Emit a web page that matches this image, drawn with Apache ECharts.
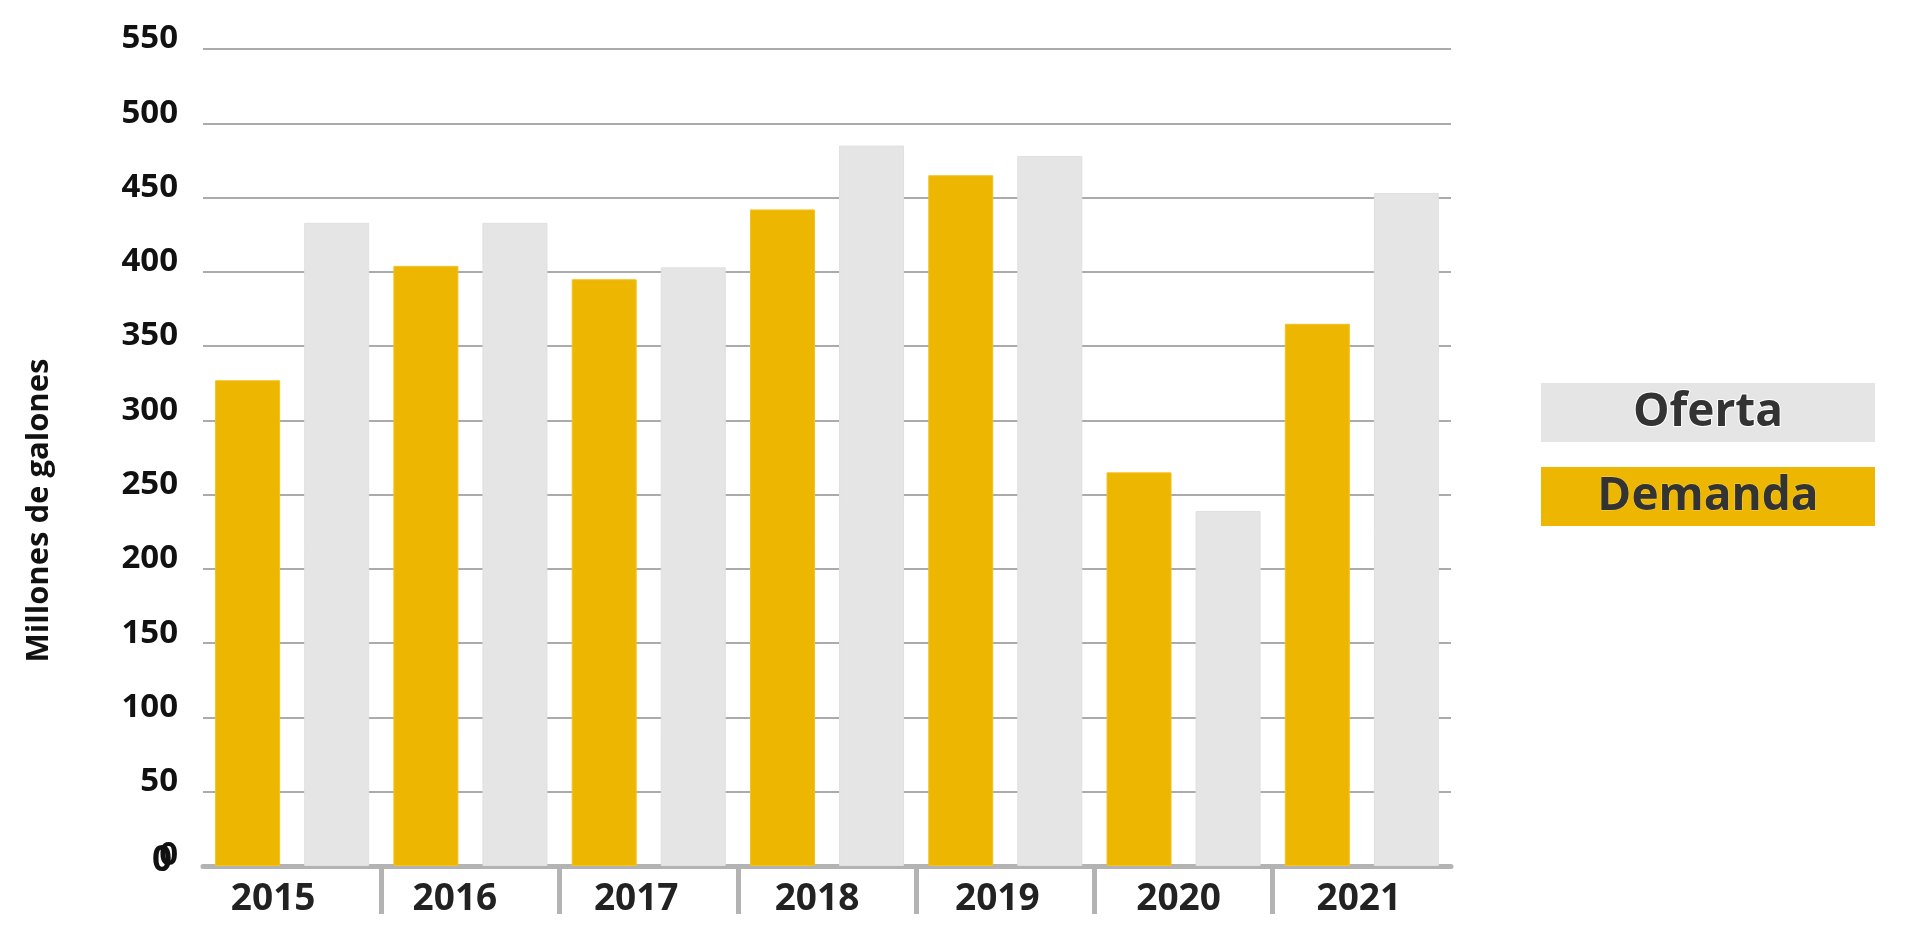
<!DOCTYPE html>
<html>
<head>
<meta charset="utf-8">
<script src="https://cdn.jsdelivr.net/npm/echarts@6/dist/echarts.min.js"></script>
<style>
html,body{margin:0;padding:0;background:#fff;}
#chart{width:1920px;height:952px;}
</style>
</head>
<body>
<div id="chart"></div>
<script>
const categories = ['2015', '2016', '2017', '2018', '2019', '2020', '2021'];
const demanda = [327, 404, 395, 442, 465, 265, 365];
const oferta = [433, 433, 403, 485, 478, 239, 453];
const yTicks = [0, 50, 100, 150, 200, 250, 300, 350, 400, 450, 500, 550];
const seriesNames = ['Demanda', 'Oferta'];
const legendOrder = ['Oferta', 'Demanda'];

const FONT = '"Open Sans", "Noto Sans", sans-serif';
const GOLD = '#EDB600';
const GREY = '#E5E5E5';
const AXIS = '#B3B3B3';

// horizontal shift (px) of each year label relative to its category centre, as in the source
const labelShift = [-19, -15.5, -12.5, -10, -8, -5, -3];

const chart = echarts.init(document.getElementById('chart'), null, {renderer: 'canvas'});

const tickGradient = {
  type: 'linear', x: 0, y: 0, x2: 1920, y2: 0, global: true,
  colorStops: [
    {offset: 0, color: 'rgba(179,179,179,0)'},
    {offset: 207 / 1920, color: 'rgba(179,179,179,0)'},
    {offset: 208 / 1920, color: AXIS},
    {offset: 1446 / 1920, color: AXIS},
    {offset: 1447 / 1920, color: 'rgba(179,179,179,0)'},
    {offset: 1, color: 'rgba(179,179,179,0)'}
  ]
};

const labelRich = {};
labelShift.forEach(function (s, i) {
  labelRich['l' + i] = {
    fontFamily: FONT, fontWeight: 700, fontSize: 37, color: '#222', lineHeight: 38,
    padding: s < 0 ? [0, -2 * s, 0, 0] : [0, 0, 0, 2 * s]
  };
});

const option = {
  animation: false,
  backgroundColor: '#fff',
  grid: {left: 203, right: 469, top: 49, bottom: 86, containLabel: false},
  legend: {
    data: legendOrder,
    orient: 'vertical',
    left: 1535,
    top: 383,
    padding: 0,
    itemGap: 25,
    itemWidth: 0,
    itemHeight: 0,
    selectedMode: false,
    formatter: function (name) {
      return name === 'Oferta' ? '{o|' + name + '}' : '{d|' + name + '}';
    },
    textStyle: {
      rich: {
        o: {
          width: 334, height: 59, lineHeight: 59, align: 'center',
          backgroundColor: GREY, color: '#333', fontFamily: FONT, fontWeight: 700,
          fontSize: 46, textBorderColor: '#fff', textBorderWidth: 2
        },
        d: {
          width: 334, height: 59, lineHeight: 59, align: 'center',
          backgroundColor: GOLD, color: '#333', fontFamily: FONT, fontWeight: 700,
          fontSize: 46, textBorderColor: '#f7d24a', textBorderWidth: 1
        }
      }
    }
  },
  xAxis: {
    type: 'category',
    data: categories,
    boundaryGap: true,
    axisLine: {show: true, lineStyle: {color: AXIS, width: 5}},
    axisTick: {show: true, length: 48, lineStyle: {color: tickGradient, width: 5}},
    axisLabel: {
      margin: 14,
      formatter: function (value, index) { return '{l' + index + '|' + value + '}'; },
      rich: labelRich
    },
    splitLine: {show: false}
  },
  yAxis: {
    type: 'value',
    min: yTicks[0],
    max: yTicks[yTicks.length - 1],
    interval: yTicks[1] - yTicks[0],
    name: 'Millones de galones',
    nameLocation: 'middle',
    nameRotate: 90,
    nameGap: 148,
    nameTextStyle: {
      fontFamily: FONT, fontWeight: 700, fontSize: 31, color: '#111', padding: [0, 106, 0, 0]
    },
    axisLine: {show: false},
    axisTick: {show: false},
    axisLabel: {
      margin: 25, fontFamily: FONT, fontWeight: 700, fontSize: 33, color: '#111',
      verticalAlign: 'bottom', lineHeight: 20
    },
    splitLine: {show: true, lineStyle: {color: '#ABABAB', width: 2}}
  },
  graphic: [{
    type: 'text', left: 152, top: 844, z: 10,
    style: {text: '0', font: '700 35px ' + FONT, fill: '#111'}
  }],
  series: [
    {
      name: seriesNames[0], type: 'bar', data: demanda,
      barWidth: 65, barGap: '37%',
      itemStyle: {color: GOLD, borderColor: '#F3C21E', borderWidth: 1}
    },
    {
      name: seriesNames[1], type: 'bar', data: oferta,
      barWidth: 65, barGap: '37%',
      itemStyle: {color: GREY, borderColor: '#E0E0E0', borderWidth: 1}
    }
  ]
};

chart.setOption(option);
</script>
</body>
</html>
